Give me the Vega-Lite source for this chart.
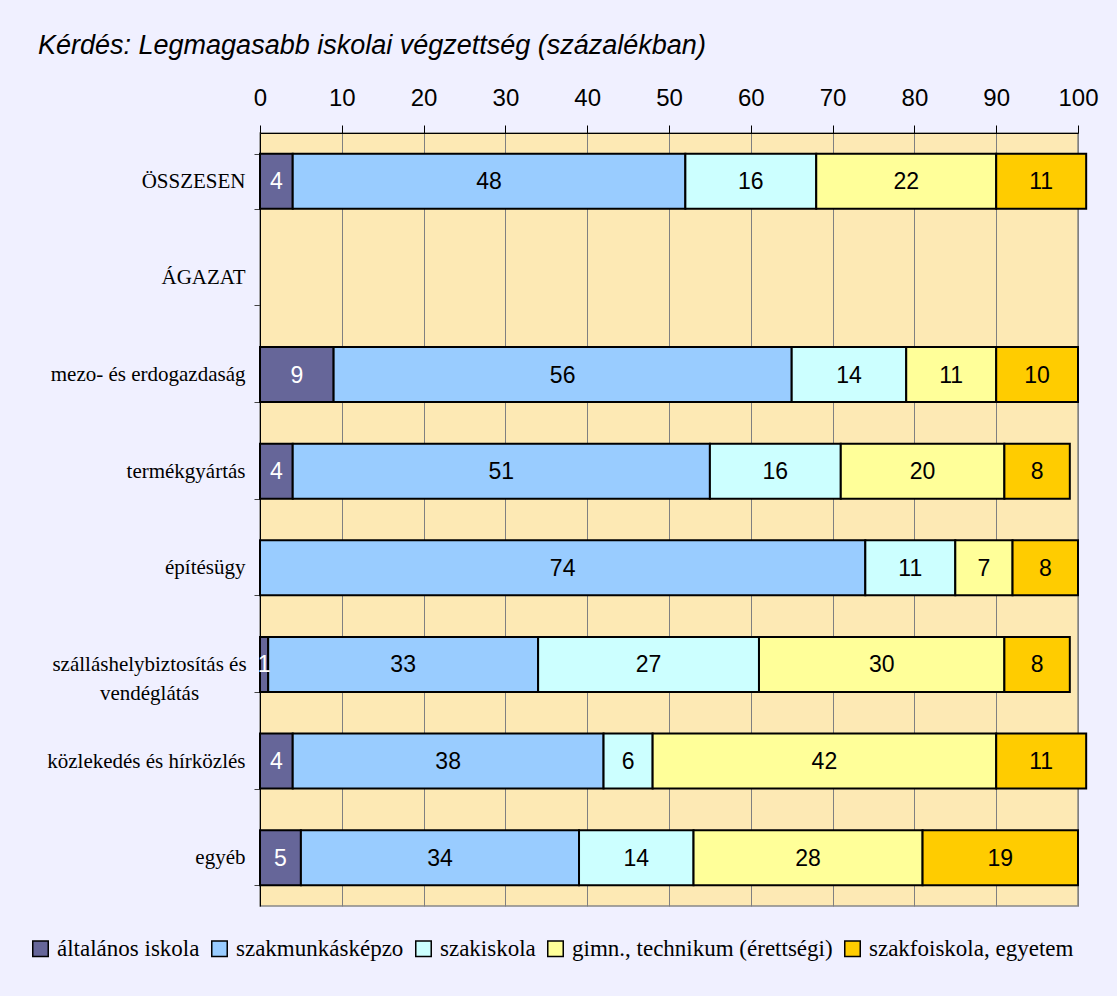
{
  "$schema": "https://vega.github.io/schema/vega-lite/v6.json",
  "autosize": {"type": "none"},
  "width": 818,
  "height": 773,
  "padding": {"left": 260, "top": 133, "right": 39, "bottom": 90},
  "background": "#F0F0FF",
  "title": {
    "text": "Kérdés: Legmagasabb iskolai végzettség (százalékban)",
    "anchor": "start",
    "frame": "group",
    "dx": -222,
    "offset": 26,
    "font": "Liberation Sans",
    "fontStyle": "italic",
    "fontWeight": "normal",
    "fontSize": 27,
    "color": "black"
  },
  "config": {
    "view": {"fill": "#FDE9B4", "stroke": "#888888", "strokeWidth": 1.5},
    "axis": {"labelColor": "black"}
  },
  "data": {
    "values": [
      {"g": "ÖSSZESEN", "k": 1, "s": "általános iskola", "v": 4},
      {"g": "ÖSSZESEN", "k": 2, "s": "szakmunkásképzo", "v": 48},
      {"g": "ÖSSZESEN", "k": 3, "s": "szakiskola", "v": 16},
      {"g": "ÖSSZESEN", "k": 4, "s": "gimn., technikum (érettségi)", "v": 22},
      {"g": "ÖSSZESEN", "k": 5, "s": "szakfoiskola, egyetem", "v": 11},
      {"g": "mezo- és erdogazdaság", "k": 1, "s": "általános iskola", "v": 9},
      {"g": "mezo- és erdogazdaság", "k": 2, "s": "szakmunkásképzo", "v": 56},
      {"g": "mezo- és erdogazdaság", "k": 3, "s": "szakiskola", "v": 14},
      {"g": "mezo- és erdogazdaság", "k": 4, "s": "gimn., technikum (érettségi)", "v": 11},
      {"g": "mezo- és erdogazdaság", "k": 5, "s": "szakfoiskola, egyetem", "v": 10},
      {"g": "termékgyártás", "k": 1, "s": "általános iskola", "v": 4},
      {"g": "termékgyártás", "k": 2, "s": "szakmunkásképzo", "v": 51},
      {"g": "termékgyártás", "k": 3, "s": "szakiskola", "v": 16},
      {"g": "termékgyártás", "k": 4, "s": "gimn., technikum (érettségi)", "v": 20},
      {"g": "termékgyártás", "k": 5, "s": "szakfoiskola, egyetem", "v": 8},
      {"g": "építésügy", "k": 2, "s": "szakmunkásképzo", "v": 74},
      {"g": "építésügy", "k": 3, "s": "szakiskola", "v": 11},
      {"g": "építésügy", "k": 4, "s": "gimn., technikum (érettségi)", "v": 7},
      {"g": "építésügy", "k": 5, "s": "szakfoiskola, egyetem", "v": 8},
      {"g": "szálláshelybiztosítás és vendéglátás", "k": 1, "s": "általános iskola", "v": 1},
      {"g": "szálláshelybiztosítás és vendéglátás", "k": 2, "s": "szakmunkásképzo", "v": 33},
      {"g": "szálláshelybiztosítás és vendéglátás", "k": 3, "s": "szakiskola", "v": 27},
      {"g": "szálláshelybiztosítás és vendéglátás", "k": 4, "s": "gimn., technikum (érettségi)", "v": 30},
      {"g": "szálláshelybiztosítás és vendéglátás", "k": 5, "s": "szakfoiskola, egyetem", "v": 8},
      {"g": "közlekedés és hírközlés", "k": 1, "s": "általános iskola", "v": 4},
      {"g": "közlekedés és hírközlés", "k": 2, "s": "szakmunkásképzo", "v": 38},
      {"g": "közlekedés és hírközlés", "k": 3, "s": "szakiskola", "v": 6},
      {"g": "közlekedés és hírközlés", "k": 4, "s": "gimn., technikum (érettségi)", "v": 42},
      {"g": "közlekedés és hírközlés", "k": 5, "s": "szakfoiskola, egyetem", "v": 11},
      {"g": "egyéb", "k": 1, "s": "általános iskola", "v": 5},
      {"g": "egyéb", "k": 2, "s": "szakmunkásképzo", "v": 34},
      {"g": "egyéb", "k": 3, "s": "szakiskola", "v": 14},
      {"g": "egyéb", "k": 4, "s": "gimn., technikum (érettségi)", "v": 28},
      {"g": "egyéb", "k": 5, "s": "szakfoiskola, egyetem", "v": 19}
    ]
  },
  "encoding": {
    "y": {
      "field": "g",
      "type": "nominal",
      "scale": {
        "domain": ["ÖSSZESEN", "ÁGAZAT", "mezo- és erdogazdaság", "termékgyártás", "építésügy", "szálláshelybiztosítás és vendéglátás", "közlekedés és hírközlés", "egyéb"],
        "paddingInner": 0.43,
        "paddingOuter": 0.215
      },
      "axis": {
        "title": null,
        "tickBand": "extent",
        "tickSize": 6,
        "tickColor": "#444444",
        "domainColor": "black",
        "domainWidth": 1,
        "labelFont": "Liberation Serif",
        "labelFontSize": 21,
        "labelLineHeight": 29,
        "labelLimit": 300,
        "labelExpr": "datum.value == 'szálláshelybiztosítás és vendéglátás' ? ['szálláshelybiztosítás és', 'vendéglátás'] : datum.value",
        "labelAlign": {"condition": {"test": "datum.value == 'szálláshelybiztosítás és vendéglátás'", "value": "center"}, "value": "right"},
        "labelPadding": {"condition": {"test": "datum.value == 'szálláshelybiztosítás és vendéglátás'", "value": 105}, "value": 9}
      }
    },
    "order": {"field": "k", "type": "ordinal"}
  },
  "layer": [
    {
      "mark": {"type": "bar", "stroke": "black", "strokeWidth": 2},
      "encoding": {
        "x": {
          "field": "v",
          "type": "quantitative",
          "stack": "zero",
          "scale": {"domain": [0, 100], "nice": false},
          "axis": {
            "orient": "top",
            "title": null,
            "values": [0, 10, 20, 30, 40, 50, 60, 70, 80, 90, 100],
            "grid": true,
            "gridColor": "#808080",
            "gridOpacity": 1,
            "gridWidth": 1,
            "tickSize": 8,
            "tickColor": "black",
            "domainColor": "black",
            "labelFont": "Liberation Sans",
            "labelFontSize": 24,
            "labelPadding": 15,
            "labelFlush": false
          }
        },
        "color": {
          "field": "s",
          "type": "nominal",
          "scale": {
            "domain": ["általános iskola", "szakmunkásképzo", "szakiskola", "gimn., technikum (érettségi)", "szakfoiskola, egyetem"],
            "range": ["#666699", "#99CCFF", "#CCFFFF", "#FFFF99", "#FFCC00"]
          },
          "legend": {
            "title": null,
            "orient": "none",
            "direction": "horizontal",
            "columns": 5,
            "legendX": -231,
            "legendY": 804,
            "symbolType": "square",
            "symbolSize": 240,
            "symbolStrokeColor": "black",
            "symbolStrokeWidth": 1.5,
            "symbolOpacity": 1,
            "labelFont": "Liberation Serif",
            "labelFontSize": 23,
            "labelColor": "black",
            "labelOffset": 5,
            "columnPadding": 8,
            "labelLimit": 400
          }
        }
      }
    },
    {
      "mark": {"type": "text", "font": "Liberation Sans", "fontSize": 23, "baseline": "middle", "align": "center", "dy": 1},
      "encoding": {
        "x": {"field": "v", "type": "quantitative", "stack": "zero", "bandPosition": 0.5},
        "text": {"field": "v", "type": "quantitative"},
        "color": {"condition": {"test": "datum.k == 1", "value": "white"}, "value": "black"}
      }
    }
  ]
}
